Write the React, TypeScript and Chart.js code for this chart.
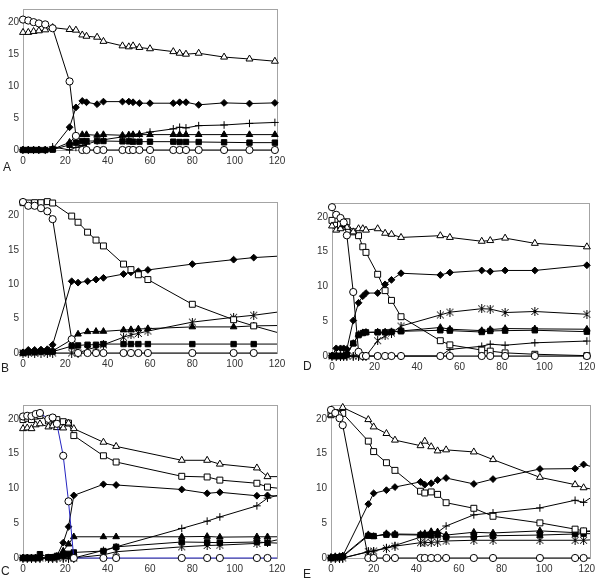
import React, { useEffect, useRef } from "react";
import { Chart, registerables } from "chart.js";
Chart.register(...registerables);

// ---------- Panel A ----------
const timesA = [0, 2.5, 5, 7.5, 10.5, 14, 22, 25, 28, 30, 35, 38, 47, 50, 52, 55, 60, 71, 74, 77, 83, 95, 107, 119];
const openCircleA = [20.35, 20.2, 19.95, 19.75, 19.6, 19.0, 10.7, 2.2, 0, 0, 0, 0, 0, 0, 0, 0, 0, 0, 0, 0, 0, 0, 0, 0];
const openTriangleA = [18.35, 18.35, 18.5, 18.6, 18.75, 19.1, 18.8, 18.7, 17.95, 17.75, 17.6, 16.95, 16.25, 16.1, 16.25, 16.0, 15.8, 15.35, 15.1, 14.95, 15.1, 14.5, 14.2, 13.85];
const diamondA = [0, 0, 0, 0, 0, 0.2, 3.55, 6.65, 7.65, 7.45, 7.15, 7.55, 7.55, 7.55, 7.45, 7.3, 7.3, 7.3, 7.45, 7.45, 7.05, 7.35, 7.25, 7.35];
const filledTriangleA = [0, 0, 0, 0, 0, 0.1, 1.2, 2.15, 2.4, 2.4, 2.3, 2.4, 2.3, 2.35, 2.4, 2.4, 2.4, 2.4, 2.4, 2.4, 2.4, 2.4, 2.4, 2.4];
const filledSquareA = [0, 0, 0, 0, 0, 0.05, 0.8, 1.15, 1.4, 1.4, 1.4, 1.4, 1.35, 1.35, 1.3, 1.3, 1.3, 1.3, 1.25, 1.25, 1.25, 1.2, 1.15, 1.15];
const plusA = [0, 0, 0, 0, 0, 0.5, 0, 0.4, 0.7, 0.9, 1.4, 1.6, 2.05, 2.2, 2.35, 2.5, 2.8, 3.3, 3.55, 3.45, 3.8, 3.9, 4.15, 4.3];

// ---------- Panel B ----------
const timesB = [0, 2.5, 5.5, 8.5, 11.5, 14, 23, 26, 30.5, 34.5, 38, 47.5, 51, 54.5, 59, 80, 99.5, 109, 120];
const openCircleB = [22.0, 21.45, 21.45, 21.1, 20.65, 19.5, 2.0, 0, 0, 0, 0, 0, 0, 0, 0, 0, 0, 0, 0];
const openSquareB = [21.9, 21.85, 21.9, 21.9, 22.05, 21.85, 19.95, 19.05, 17.6, 16.45, 15.6, 12.95, 12.15, 11.4, 10.7, 7.1, 4.85, 3.95, 3.0];
const diamondB = [0.1, 0.45, 0.45, 0.5, 0.55, 1.2, 10.45, 10.25, 10.45, 10.7, 10.95, 11.5, 11.75, 11.9, 12.1, 12.95, 13.6, 13.9, 14.1];
const filledTriangleB = [0, 0.2, 0.2, 0.3, 0.3, 0.3, 1.95, 2.75, 3.1, 3.15, 3.15, 3.35, 3.4, 3.5, 3.55, 3.8, 3.8, 3.95, 4.0];
const filledSquareB = [0, 0.1, 0.1, 0.2, 0.2, 0.2, 1.0, 1.1, 1.2, 1.2, 1.3, 1.3, 1.3, 1.3, 1.3, 1.3, 1.3, 1.3, 1.3];
const starB = [0, 0, 0, 0, 0, 0, 0, 0, 0.5, 0.85, 1.2, 2.3, 2.65, 2.85, 3.2, 4.5, 5.2, 5.5, 5.95];

// ---------- Panel D ----------
const timesD = [0, 2, 4, 5.5, 7, 10, 12.5, 14.5, 16, 21.5, 25, 28, 32.5, 51, 55.5, 70.5, 74.5, 81.5, 95.5, 120];
const openCircleD = [21.4, 20.3, 19.85, 19.2, 17.35, 9.2, 0.6, 0, 0, 0, 0, 0, 0, 0, 0, 0, 0, 0, 0, 0];
const openTriangleD = [18.7, 18.1, 18.3, 18.9, 18.5, 17.85, 18.3, 18.3, 18.1, 18.3, 17.65, 17.5, 17.05, 17.3, 17.05, 16.5, 16.6, 16.95, 16.2, 15.7];
const openSquareD = [19.5, 18.8, 18.9, 19.0, 19.3, 17.85, 17.3, 15.7, 14.9, 11.75, 9.4, 8.0, 5.65, 2.2, 1.6, 0.85, 0.7, 0.45, 0.25, 0.05];
const diamondD = [0, 1.1, 1.1, 1.1, 1.0, 5.1, 7.65, 8.6, 9.05, 9.05, 10.3, 10.95, 11.9, 11.65, 12.0, 12.3, 12.15, 12.3, 12.3, 13.05];
const filledTriangleD = [0, 0, 0, 0, 0.3, 1.8, 3.1, 3.35, 3.4, 3.45, 3.45, 3.5, 3.6, 4.1, 3.85, 3.65, 3.8, 3.95, 3.9, 3.85];
const filledSquareD = [0, 0, 0, 0, 0.2, 1.8, 3.0, 3.3, 3.4, 3.4, 3.4, 3.45, 3.55, 3.7, 3.65, 3.45, 3.6, 3.65, 3.7, 3.5];
const starD = [0, 0, 0, 0, 0, 0, 0, 0, 0, 2.2, 2.9, 3.3, 4.3, 5.9, 6.3, 6.8, 6.75, 6.25, 6.4, 6.0];
const plusD = [0, 0, 0, 0, 0, 0, 0, 0, 0, 0, 0, 0, 0, 0, 0.95, 1.4, 1.7, 1.55, 1.9, 2.15];

// ---------- Panel C ----------
const timesC = [0, 2, 4, 6, 8, 12, 14, 16, 19, 21.5, 24, 38, 44, 75, 87, 93, 110.5, 115.5, 120];
const openCircleC = [20.35, 20.45, 20.4, 20.7, 20.85, 20.0, 20.2, 19.3, 14.7, 8.15, 0, 0, 0, 0, 0, 0, 0, 0, 0];
const openTriangleC = [18.6, 18.7, 18.6, 19.15, 19.3, 18.85, 19.0, 18.75, 18.7, 19.4, 18.6, 16.65, 16.05, 14.05, 14.05, 13.5, 12.95, 11.7, 11.7];
const openSquareC = [19.9, 20.1, 19.9, 20.4, 20.5, 19.7, 20.1, 19.9, 19.6, 19.4, 17.6, 14.7, 13.8, 11.75, 11.65, 11.2, 10.75, 10.2, 10.05];
const diamondC = [0, 0, 0, 0, 0, 0.1, 0.1, 0.3, 2.2, 4.5, 9.0, 10.6, 10.5, 9.85, 9.3, 9.45, 8.95, 9.0, 8.9];
const filledTriangleC = [0, 0, 0, 0, 0, 0, 0, 0.1, 1.0, 2.0, 3.05, 3.05, 3.05, 3.05, 3.1, 3.0, 3.05, 3.05, 3.05];
const filledSquareC = [0, 0, 0, 0, 0.55, 0.1, 0.1, 0.3, 0.45, 0.6, 0.8, 1.0, 1.6, 2.3, 2.25, 2.2, 2.3, 2.2, 2.15];
const plusC = [0, 0, 0, 0, 0, 0, 0, 0, 0, 0, 0, 1.1, 1.6, 4.25, 5.3, 5.9, 7.5, 8.6, 9.0];
const starC = [0, 0, 0, 0, 0, 0, 0, 0, 0, 0, 0, 0.45, 0.9, 1.6, 1.8, 1.85, 2.1, 2.3, 2.6];

// ---------- Panel E ----------
const timesE = [0, 2, 4, 5.5, 17.5, 20, 26, 30, 42, 44, 47, 50, 54, 67, 76, 98, 114.5, 118.5, 121.5];
const openCircleE = [21.3, 20.85, 20.1, 19.1, 0, 0, 0, 0, 0, 0, 0, 0, 0, 0, 0, 0, 0, 0, 0];
const openTriangleE = [20.6, 20.8, 20.6, 21.65, 19.9, 18.85, 17.9, 16.95, 16.15, 16.8, 16.0, 15.4, 15.55, 15.25, 14.15, 11.6, 10.55, 10.1, 9.95];
const openSquareE = [20.6, 20.9, 20.8, 20.8, 16.8, 15.3, 13.7, 12.6, 9.6, 9.35, 9.5, 9.15, 7.95, 7.15, 6.0, 5.05, 4.15, 3.9, 3.8];
const diamondE = [0.1, 0.1, 0.2, 0.3, 7.75, 9.3, 9.75, 10.2, 10.95, 10.55, 10.75, 11.2, 11.5, 10.65, 11.35, 12.8, 12.85, 13.45, 13.2];
const filledTriangleE = [0.1, 0.2, 0.2, 0.3, 3.35, 3.1, 3.5, 3.45, 3.4, 3.5, 3.8, 3.75, 3.3, 3.7, 3.6, 3.9, 3.65, 3.8, 3.9];
const filledSquareE = [0, 0.1, 0.1, 0.2, 3.2, 3.15, 3.35, 3.35, 3.3, 3.3, 3.25, 3.3, 3.0, 3.05, 3.2, 3.3, 3.45, 3.5, 3.5];
const plusE = [0, 0, 0, 0, 0.9, 1.0, 1.5, 1.8, 3.0, 3.5, 3.75, 3.7, 4.6, 6.2, 6.5, 7.2, 8.3, 8.0, 8.6];
const starE = [0, 0, 0, 0, 0.9, 1.0, 1.4, 1.7, 2.2, 2.2, 2.25, 2.3, 2.45, 2.55, 2.55, 2.55, 2.55, 2.55, 2.6];

const xTickStep = 20;
const yTickStep = 5;
const yMax = 22;

type Kind = "openCircle" | "openTriangle" | "openSquare" | "diamond" | "filledTriangle" | "filledSquare" | "plus" | "star";

interface PanelDef {
  letter: string;
  times: number[];
  series: [Kind, number[]][];
  xMax: number;
  plot: { left: number; top: number; right: number; bottom: number };
  letterPos: { left: number; top: number };
  lastHidden: boolean;
  circleLine?: string;
}

const panels: PanelDef[] = [
  {
    letter: "A", times: timesA, xMax: 120, lastHidden: false,
    plot: { left: 23, top: 5, right: 277, bottom: 150 }, letterPos: { left: 3, top: 161 },
    series: [["openCircle", openCircleA], ["openTriangle", openTriangleA], ["diamond", diamondA], ["filledTriangle", filledTriangleA], ["filledSquare", filledSquareA], ["plus", plusA]],
  },
  {
    letter: "B", times: timesB, xMax: 120, lastHidden: true,
    plot: { left: 23, top: 198, right: 277, bottom: 353 }, letterPos: { left: 1, top: 362 },
    series: [["openCircle", openCircleB], ["openSquare", openSquareB], ["diamond", diamondB], ["filledTriangle", filledTriangleB], ["filledSquare", filledSquareB], ["star", starB]],
  },
  {
    letter: "D", times: timesD, xMax: 121, lastHidden: false,
    plot: { left: 332, top: 199, right: 589, bottom: 356 }, letterPos: { left: 303, top: 360 },
    series: [["openCircle", openCircleD], ["openTriangle", openTriangleD], ["openSquare", openSquareD], ["diamond", diamondD], ["filledTriangle", filledTriangleD], ["filledSquare", filledSquareD], ["plus", plusD], ["star", starD]],
  },
  {
    letter: "C", times: timesC, xMax: 120, lastHidden: true, circleLine: "#2424c0",
    plot: { left: 23, top: 401, right: 277, bottom: 558 }, letterPos: { left: 1, top: 565 },
    series: [["openCircle", openCircleC], ["openTriangle", openTriangleC], ["openSquare", openSquareC], ["diamond", diamondC], ["filledTriangle", filledTriangleC], ["filledSquare", filledSquareC], ["plus", plusC], ["star", starC]],
  },
  {
    letter: "E", times: timesE, xMax: 121.5, lastHidden: true,
    plot: { left: 331, top: 401, right: 590, bottom: 558 }, letterPos: { left: 303, top: 568 },
    series: [["openCircle", openCircleE], ["openTriangle", openTriangleE], ["openSquare", openSquareE], ["diamond", diamondE], ["filledTriangle", filledTriangleE], ["filledSquare", filledSquareE], ["plus", plusE], ["star", starE]],
  },
];

const FONT = "'Liberation Sans', Arial, sans-serif";

function makeStar(): HTMLCanvasElement {
  const c = document.createElement("canvas");
  c.width = 9;
  c.height = 9;
  const g = c.getContext("2d")!;
  g.strokeStyle = "#000";
  g.lineWidth = 1;
  g.beginPath();
  g.moveTo(1, 1); g.lineTo(8, 8);
  g.moveTo(8, 1); g.lineTo(1, 8);
  g.moveTo(4.5, 0); g.lineTo(4.5, 9);
  g.stroke();
  return c;
}

function markerFor(kind: Kind, star: HTMLCanvasElement) {
  switch (kind) {
    case "openCircle": return { pointStyle: "circle", r: 3.6, bg: "#fff" };
    case "openTriangle": return { pointStyle: "triangle", r: 4, bg: "#fff" };
    case "openSquare": return { pointStyle: "rect", r: 4.2, bg: "#fff" };
    case "diamond": return { pointStyle: "rectRot", r: 3.4, bg: "#000" };
    case "filledTriangle": return { pointStyle: "triangle", r: 3.8, bg: "#000" };
    case "filledSquare": return { pointStyle: "rect", r: 3.8, bg: "#000" };
    case "plus": return { pointStyle: "cross", r: 3.8, bg: "#000" };
    case "star": return { pointStyle: star as any, r: 4, bg: "#000" };
  }
}

const boxPlugin = {
  id: "plotBox",
  beforeDatasetsDraw(chart: any) {
    const { ctx, chartArea: a } = chart;
    ctx.save();
    ctx.strokeStyle = "#a4a4a4";
    ctx.lineWidth = 1;
    ctx.strokeRect(Math.round(a.left) + 0.5, Math.round(a.top) + 0.5, Math.round(a.right - a.left), Math.round(a.bottom - a.top));
    ctx.restore();
  },
};

const YW = 30;
const PADR = 14;
const PADT = 6;
const XH = 24;

function PanelChart({ def }: { def: PanelDef }) {
  const ref = useRef<HTMLCanvasElement>(null);
  const { left: L, top: T, right: R, bottom: B } = def.plot;
  const width = R - L + YW + PADR;
  const height = B - T + PADT + XH;

  useEffect(() => {
    if (!ref.current) return;
    const star = makeStar();
    const last = def.times.length - 1;
    const datasets = def.series.map(([kind, vals]) => {
      const m = markerFor(kind, star)!;
      return {
        label: kind,
        data: def.times.map((t, i) => ({ x: t, y: vals[i] })),
        borderColor: kind === "openCircle" && def.circleLine ? def.circleLine : "#000",
        borderWidth: 1,
        pointStyle: m.pointStyle as any,
        pointRadius: (ctx: any) => (def.lastHidden && ctx.dataIndex === last ? 0 : m.r),
        pointHoverRadius: m.r,
        pointBackgroundColor: m.bg,
        pointBorderColor: "#000",
        pointBorderWidth: 1,
        tension: 0,
        fill: false,
        clip: 8,
      };
    });
    const tickFont = { family: FONT, size: 10 };
    const chart = new Chart(ref.current, {
      type: "line",
      data: { datasets },
      options: {
        animation: false,
        responsive: false,
        devicePixelRatio: 1,
        events: [],
        layout: { autoPadding: false, padding: { left: 0, right: PADR, top: PADT, bottom: 0 } } as any,
        plugins: { legend: { display: false }, tooltip: { enabled: false } },
        scales: {
          x: {
            type: "linear",
            min: 0,
            max: def.xMax,
            grid: { display: false, drawTicks: false },
            border: { display: false },
            ticks: { stepSize: xTickStep, includeBounds: false, padding: 5, font: tickFont, color: "#333", maxRotation: 0, autoSkip: false },
            afterFit: (s: any) => { s.height = XH; },
          },
          y: {
            type: "linear",
            min: 0,
            max: yMax,
            grid: { display: false, drawTicks: false },
            border: { display: false },
            ticks: { stepSize: yTickStep, includeBounds: false, padding: 4, font: tickFont, color: "#333" },
            afterFit: (s: any) => { s.width = YW; },
          },
        },
      } as any,
      plugins: [boxPlugin],
    });
    return () => chart.destroy();
  }, []);

  return (
    <canvas
      ref={ref}
      width={width}
      height={height}
      style={{ position: "absolute", left: L - YW, top: T - PADT, width, height }}
    />
  );
}

export default function App() {
  return (
    <div style={{ position: "absolute", left: 0, top: 0, width: 600, height: 587, background: "#fff", overflow: "hidden" }}>
      {panels.map((p) => (
        <React.Fragment key={p.letter}>
          <PanelChart def={p} />
          <div
            style={{
              position: "absolute",
              left: p.letterPos.left,
              top: p.letterPos.top,
              font: `12px ${FONT}`,
              lineHeight: "12px",
              color: "#222",
            }}
          >
            {p.letter}
          </div>
        </React.Fragment>
      ))}
    </div>
  );
}
